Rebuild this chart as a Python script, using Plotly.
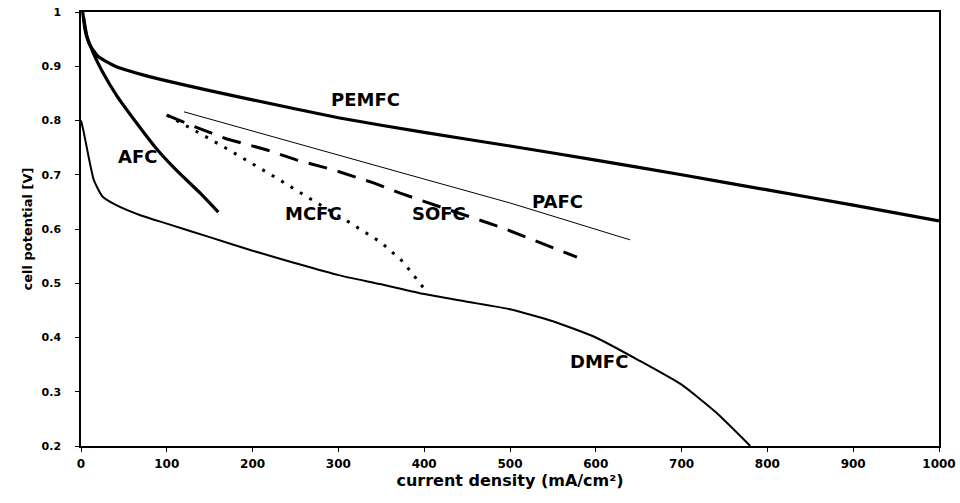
import plotly.graph_objects as go

# ---- data ----
PEMFC_x = [2, 5, 10, 20, 40, 70, 100, 150, 200, 300, 400, 500, 600, 700, 800, 900, 1000]
PEMFC_y = [1.0, 0.965, 0.94, 0.918, 0.90, 0.885, 0.873, 0.855, 0.838, 0.805, 0.778, 0.753, 0.727, 0.700, 0.672, 0.644, 0.615]

AFC_x = [3, 7, 15, 25, 42, 65, 88, 112, 139, 160]
AFC_y = [0.99, 0.955, 0.922, 0.89, 0.845, 0.795, 0.748, 0.707, 0.666, 0.631]

DMFC_x = [0, 3, 8, 15, 25, 40, 70, 100, 150, 200, 250, 300, 350, 400, 450, 500, 550, 600, 650, 700, 740, 780]
DMFC_y = [0.80, 0.78, 0.74, 0.69, 0.66, 0.645, 0.625, 0.61, 0.585, 0.56, 0.537, 0.515, 0.498, 0.48, 0.466, 0.452, 0.43, 0.40, 0.358, 0.313, 0.262, 0.20]

MCFC_x = [100, 120, 140, 170, 200, 230, 270, 310, 350, 375, 400]
MCFC_y = [0.81, 0.793, 0.775, 0.748, 0.72, 0.692, 0.653, 0.615, 0.575, 0.54, 0.49]

SOFC_x = [100, 130, 170, 216, 252, 294, 341, 372, 420, 488, 578]
SOFC_y = [0.81, 0.79, 0.766, 0.746, 0.727, 0.709, 0.685, 0.666, 0.64, 0.604, 0.548]

PAFC_x = [120, 250, 400, 500, 640]
PAFC_y = [0.816, 0.758, 0.692, 0.648, 0.58]

label_names = ["PEMFC", "AFC", "MCFC", "SOFC", "PAFC", "DMFC"]
label_x = [332, 66, 271, 417, 555, 604]
label_y = [0.838, 0.733, 0.629, 0.629, 0.650, 0.355]

x_ticks = [0, 100, 200, 300, 400, 500, 600, 700, 800, 900, 1000]
y_ticks = [0.2, 0.3, 0.4, 0.5, 0.6, 0.7, 0.8, 0.9, 1.0]
y_ticktext = ["0.2", "0.3", "0.4", "0.5", "0.6", "0.7", "0.8", "0.9", "1"]

FONT = "DejaVu Sans"

fig = go.Figure()
fig.add_trace(go.Scatter(x=PEMFC_x, y=PEMFC_y, mode="lines", name="PEMFC",
                         line=dict(color="black", width=3.2, shape="spline", smoothing=0.5)))
fig.add_trace(go.Scatter(x=AFC_x, y=AFC_y, mode="lines", name="AFC",
                         line=dict(color="black", width=3.2, shape="spline", smoothing=0.5)))
fig.add_trace(go.Scatter(x=DMFC_x, y=DMFC_y, mode="lines", name="DMFC",
                         line=dict(color="black", width=2, shape="spline", smoothing=0.5)))
fig.add_trace(go.Scatter(x=MCFC_x, y=MCFC_y, mode="lines", name="MCFC",
                         line=dict(color="black", width=3, dash="3px,8px")))
fig.add_trace(go.Scatter(x=SOFC_x, y=SOFC_y, mode="lines", name="SOFC",
                         line=dict(color="black", width=3, dash="19px,11px")))
fig.add_trace(go.Scatter(x=PAFC_x, y=PAFC_y, mode="lines", name="PAFC",
                         line=dict(color="black", width=1)))

for n, lx, ly in zip(label_names, label_x, label_y):
    fig.add_annotation(x=lx, y=ly, text=n, showarrow=False,
                       font=dict(family=FONT, size=18, color="black", weight="bold"),
                       xanchor="center", yanchor="middle")

fig.update_layout(
    width=960, height=503,
    margin=dict(l=81, r=21, t=12, b=57, autoexpand=False),
    paper_bgcolor="white", plot_bgcolor="white",
    showlegend=False,
    font=dict(family=FONT, color="black"),
)
fig.update_xaxes(
    range=[0, 1000], tickvals=x_ticks, ticktext=[str(v) for v in x_ticks],
    showgrid=False, zeroline=False, automargin=False,
    showline=True, linecolor="black", linewidth=1.5, mirror=True,
    ticks="outside", ticklen=4, tickcolor="black", ticklabelstandoff=2,
    ticklabeloverflow="allow",
    tickfont=dict(family=FONT, size=12, color="black", weight="bold"),
    title=dict(text="current density (mA/cm²)", standoff=2,
               font=dict(family=FONT, size=16, color="black", weight="bold")),
)
fig.update_yaxes(
    range=[0.2, 1.0], tickvals=y_ticks, ticktext=y_ticktext,
    showgrid=False, zeroline=False, automargin=False,
    showline=True, linecolor="black", linewidth=1.5, mirror=True,
    ticks="outside", ticklen=4, tickcolor="black", ticklabelstandoff=12,
    ticklabeloverflow="allow",
    tickfont=dict(family=FONT, size=11, color="black", weight="bold"),
    title=dict(text="cell potential [V]", standoff=6,
               font=dict(family=FONT, size=13, color="black", weight="bold")),
)

# remove the default 8px page margin so the 960x503 figure fills the window exactly
fig.write_html("out.html", config={"displayModeBar": False},
               post_script="document.body.style.margin='0';document.body.style.overflow='hidden';")
